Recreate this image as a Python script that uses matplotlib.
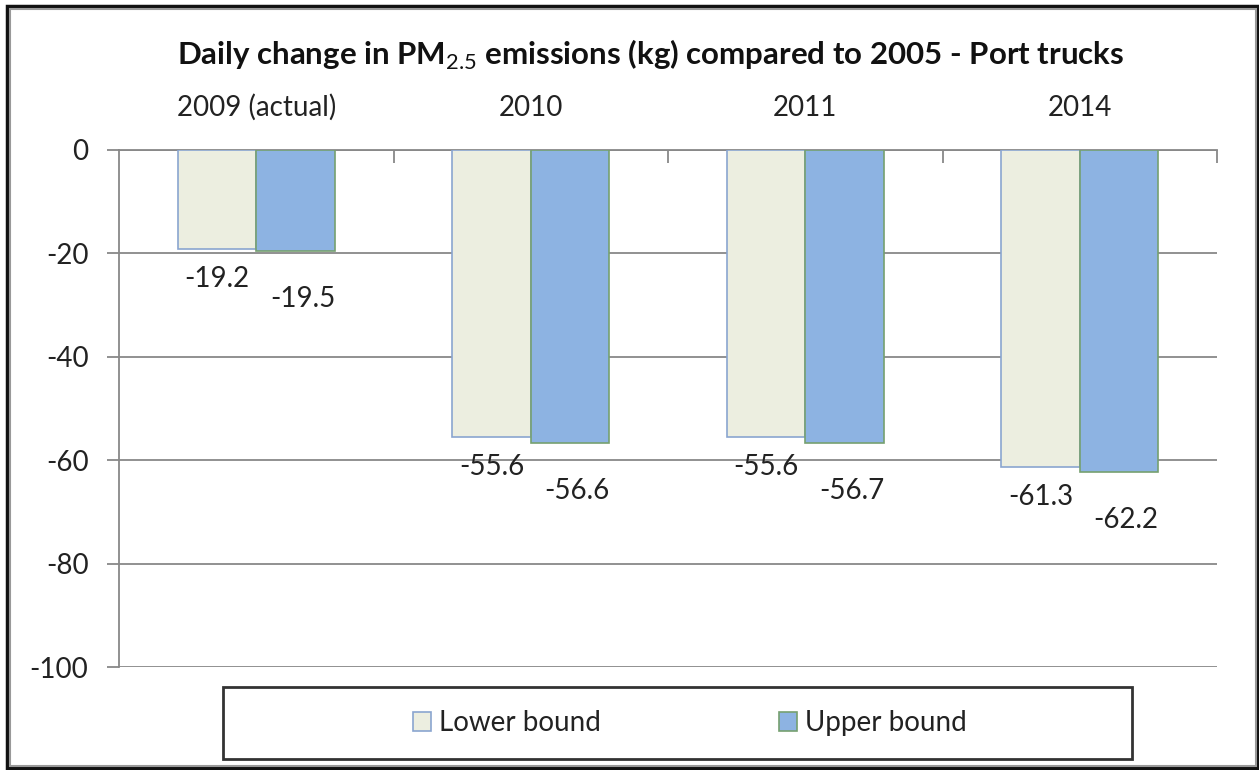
import numpy as np
import matplotlib
matplotlib.use('Agg')
import matplotlib.pyplot as plt
from matplotlib.patches import Rectangle

plt.rcParams['font.family'] = ['Lato', 'DejaVu Sans']
plt.rcParams['mathtext.fontset'] = 'custom'
plt.rcParams['mathtext.rm'] = 'Lato'
plt.rcParams['mathtext.bf'] = 'Lato:bold'

# data
categories = ['2009 (actual)', '2010', '2011', '2014']
lower_bound = [-19.2, -55.6, -55.6, -61.3]
upper_bound = [-19.5, -56.6, -56.7, -62.2]
series_names = ['Lower bound', 'Upper bound']
y_ticks = [0, -20, -40, -60, -80, -100]

lower_fill, lower_edge = '#ECEEE0', '#8AA5D0'
upper_fill, upper_edge = '#8DB3E2', '#76A070'
grid_color = '#888888'
text_color = '#222222'
fs = 20

fig = plt.figure(figsize=(12.59, 7.7), dpi=100)
ax = fig.add_axes([119 / 1259, 1 - 667 / 770, (1217 - 119) / 1259, (667 - 150) / 770])

x = np.arange(len(categories))
w = 0.286
b1 = ax.bar(x - w / 2, lower_bound, w, color=lower_fill, edgecolor=lower_edge, linewidth=1.2, zorder=3,
            label=series_names[0])
b2 = ax.bar(x + w / 2, upper_bound, w, color=upper_fill, edgecolor=upper_edge, linewidth=1.2, zorder=3,
            label=series_names[1])

# value labels below each bar end
for xi, v in zip(x - w / 2, lower_bound):
    ax.annotate(f'{v:.1f}', (xi, v), xytext=(0, -30), textcoords='offset pixels',
                ha='center', va='center', fontsize=fs, color=text_color)
for xi, v in zip(x + w / 2, upper_bound):
    ax.annotate(f'{v:.1f}', (xi, v), xytext=(7, -48), textcoords='offset pixels',
                ha='center', va='center', fontsize=fs, color=text_color)

ax.set_xlim(-0.5, len(categories) - 0.5)
ax.set_ylim(-100, 0)
ax.set_yticks(y_ticks)
ax.set_yticklabels([str(t) for t in y_ticks])
ax.yaxis.grid(True, color=grid_color, linewidth=1.3, zorder=0)
ax.set_axisbelow(True)

ax.xaxis.tick_top()
ax.set_xticks(x)
ax.set_xticklabels(categories)
ax.set_xticks(np.arange(0.5, len(categories)), minor=True)
ax.tick_params(axis='x', which='major', length=0, pad=21, labelsize=fs, labelcolor=text_color)
ax.tick_params(axis='x', which='minor', direction='in', length=9, color=grid_color, width=1.3,
               top=True, bottom=False)
ax.tick_params(axis='y', direction='out', length=9, color=grid_color, width=1.3, pad=13,
               labelsize=fs, labelcolor=text_color)

for s in ['right', 'bottom']:
    ax.spines[s].set_visible(False)
for s in ['left', 'top']:
    ax.spines[s].set_color(grid_color)
    ax.spines[s].set_linewidth(1.3)

fig.text(651 / 1259, 1 - 55 / 770,
         r'Daily change in PM$_{\mathrm{2.5}}$ emissions (kg) compared to 2005 - Port trucks',
         ha='center', va='center', fontsize=22.5, fontweight='bold', color='#111111')

# legend with its own box
fig.patches.append(Rectangle((223 / 1259, 1 - 759 / 770), (1132 - 223) / 1259, 72 / 770,
                             transform=fig.transFigure, fill=False, edgecolor='#333333',
                             linewidth=2, figure=fig))
leg = fig.legend(handles=[b1, b2], loc='center', bbox_to_anchor=(690 / 1259, 1 - 723 / 770),
                 ncol=2, frameon=False, fontsize=fs, handlelength=0.65, handleheight=0.65,
                 handletextpad=0.3, columnspacing=6.4)
for t in leg.get_texts():
    t.set_color(text_color)

# outer frame of the picture
fig.patches.append(Rectangle((7 / 1259, 2 / 770), 1251 / 1259, 762 / 770, transform=fig.transFigure,
                             fill=False, edgecolor='#111111', linewidth=2.5, figure=fig))
fig.patches.append(Rectangle((10 / 1259, 4 / 770), 1246 / 1259, 757 / 770, transform=fig.transFigure,
                             fill=False, edgecolor='#999999', linewidth=1.5, figure=fig))

fig.savefig('out.png', dpi=100)
